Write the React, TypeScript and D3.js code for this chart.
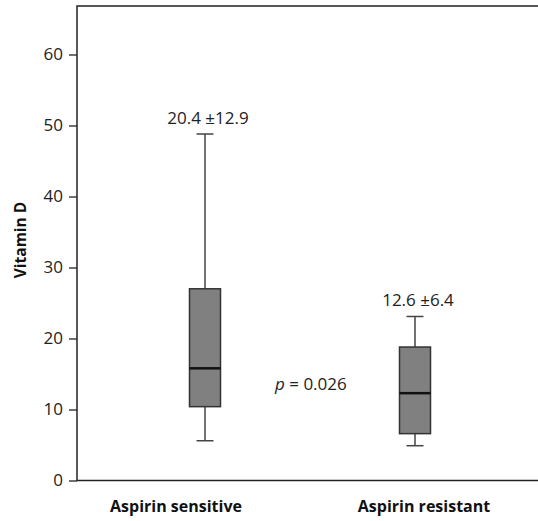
import { useRef, useEffect } from 'react'
import * as d3 from 'd3'

// box stats
const groups = ['Aspirin sensitive', 'Aspirin resistant']
const whiskLow = [5.6, 4.9]
const q1 = [10.4, 6.6]
const median = [15.8, 12.3]
const q3 = [27.0, 18.8]
const whiskHigh = [48.8, 23.1]
const meanLabels = ['20.4 ±12.9', '12.6 ±6.4']
const yTicks = [0, 10, 20, 30, 40, 50, 60]
const pText = '0.026'

const FONT = "'Open Sans', 'Noto Sans', sans-serif"

export default function App() {
  const ref = useRef<HTMLDivElement>(null)

  useEffect(() => {
    const container = ref.current
    if (container === null) return
    document.body.style.margin = '0'
    document.documentElement.style.overflow = 'hidden'
    const width = 538
    const height = 521
    const left = 77
    const top = 6
    const bottom = 480.5

    container.innerHTML = ''
    const svg = d3.select(container).append('svg')
      .attr('width', width)
      .attr('height', height)
      .style('display', 'block')
      .style('font-family', FONT)

    const y = d3.scaleLinear().domain([0, 60]).range([bottom, bottom - 60 * 7.1])
    const x = d3.scalePoint().domain(groups).range([205, 415])
    const bw = 31

    // frame: top, left, bottom
    svg.append('path')
      .attr('d', `M${width},${top}H${left}V${bottom}H${width}`)
      .attr('fill', 'none')
      .attr('stroke', '#222')
      .attr('stroke-width', 1.5)

    const yAxis = svg.append('g')
      .attr('transform', `translate(${left},0)`)
      .call(d3.axisLeft(y).tickValues(yTicks).tickSize(8).tickPadding(6))
    yAxis.select('.domain').remove()
    yAxis.selectAll('line').attr('stroke', '#222').attr('stroke-width', 1.3)
    yAxis.selectAll('text')
      .attr('fill', '#222')
      .style('font-size', '17px')
      .style('font-family', FONT)

    svg.append('text')
      .attr('transform', 'rotate(-90)')
      .attr('x', -240)
      .attr('y', 26)
      .attr('text-anchor', 'middle')
      .attr('fill', '#111')
      .style('font-size', '15.5px')
      .style('font-weight', 'bold')
      .text('Vitamin D')

    const labelShift = [-29, 9]
    groups.forEach(function (g, i) {
      const cx = x(g) as number
      const gg = svg.append('g')

      // whisker line
      gg.append('line')
        .attr('x1', cx).attr('x2', cx)
        .attr('y1', y(whiskLow[i])).attr('y2', y(whiskHigh[i]))
        .attr('stroke', '#444').attr('stroke-width', 1.5)
      const capW = 17
      ;[whiskLow[i], whiskHigh[i]].forEach(function (v) {
        gg.append('line')
          .attr('x1', cx - capW / 2).attr('x2', cx + capW / 2)
          .attr('y1', y(v)).attr('y2', y(v))
          .attr('stroke', '#444').attr('stroke-width', 1.5)
      })

      gg.append('rect')
        .attr('x', cx - bw / 2)
        .attr('width', bw)
        .attr('y', y(q3[i]))
        .attr('height', y(q1[i]) - y(q3[i]))
        .attr('fill', '#808080')
        .attr('stroke', '#333')
        .attr('stroke-width', 1.5)

      gg.append('line')
        .attr('x1', cx - bw / 2).attr('x2', cx + bw / 2)
        .attr('y1', y(median[i])).attr('y2', y(median[i]))
        .attr('stroke', '#111').attr('stroke-width', 2.5)

      gg.append('text')
        .attr('x', cx + 3)
        .attr('y', y(whiskHigh[i]) - 10)
        .attr('text-anchor', 'middle')
        .attr('fill', '#222')
        .style('font-size', '17px')
        .text(meanLabels[i])

      svg.append('text')
        .attr('x', cx + labelShift[i])
        .attr('y', 512)
        .attr('text-anchor', 'middle')
        .attr('fill', '#111')
        .style('font-size', '16px')
        .style('font-weight', 'bold')
        .text(g)
    })

    const p = svg.append('text')
      .attr('x', 275)
      .attr('y', 390)
      .attr('fill', '#222')
      .style('font-size', '17px')
    p.append('tspan').style('font-style', 'italic').text('p')
    p.append('tspan').text(' = ' + pText)
  }, [])

  return <div ref={ref}></div>
}
